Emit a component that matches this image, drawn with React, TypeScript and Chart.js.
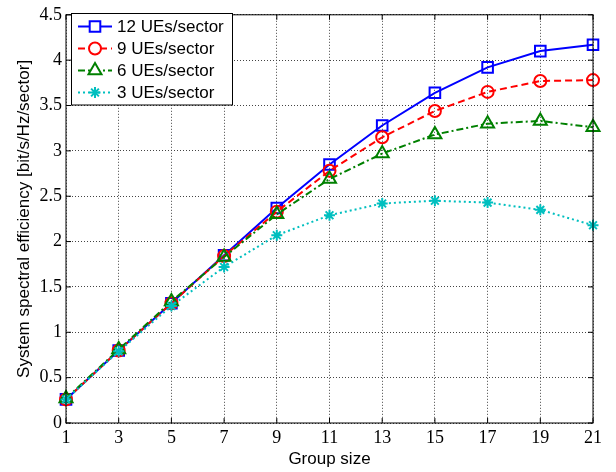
import React, { useEffect, useRef } from "react";
import { Chart, registerables } from "chart.js";

Chart.register(...registerables);

const groupSizes = [1, 3, 5, 7, 9, 11, 13, 15, 17, 19, 21];
const xTicks = [1, 3, 5, 7, 9, 11, 13, 15, 17, 19, 21];
const ues12 = [0.26, 0.8, 1.32, 1.85, 2.37, 2.85, 3.28, 3.64, 3.92, 4.1, 4.17];
const ues9 = [0.26, 0.8, 1.32, 1.84, 2.33, 2.78, 3.15, 3.44, 3.65, 3.77, 3.78];
const ues6 = [0.27, 0.81, 1.34, 1.83, 2.3, 2.69, 2.97, 3.18, 3.3, 3.33, 3.26];
const ues3 = [0.26, 0.79, 1.29, 1.72, 2.07, 2.29, 2.42, 2.45, 2.43, 2.35, 2.18];
const seriesLabels = ["12 UEs/sector", "9 UEs/sector", "6 UEs/sector", "3 UEs/sector"];
const xTitle = "Group size";
const yTitle = "System spectral efficiency [bit/s/Hz/sector]";

const SANS = "'Liberation Sans', Arial, Helvetica, sans-serif";
const SERIF = "'Liberation Serif', 'Times New Roman', serif";

const styles = [
  { color: "#0000ff", dash: [] as number[], point: "rect", radius: 7.5, pw: 2 },
  { color: "#ff0000", dash: [7, 4], point: "circle", radius: 6, pw: 2 },
  { color: "#008000", dash: [7, 3, 2, 3], point: "triangle", radius: 7.5, pw: 2 },
  { color: "#00bfbf", dash: [2, 3], point: "star", radius: 5.5, pw: 2 },
];

function drawPoint(ctx: CanvasRenderingContext2D, style: string, r: number, x: number, y: number, color: string, w: number) {
  ctx.save();
  ctx.strokeStyle = color;
  ctx.fillStyle = "#fff";
  ctx.lineWidth = w;
  ctx.setLineDash([]);
  ctx.beginPath();
  if (style === "rect") {
    const s = Math.SQRT1_2 * r;
    ctx.rect(x - s, y - s, 2 * s, 2 * s);
    ctx.fill();
  } else if (style === "circle") {
    ctx.arc(x, y, r, 0, Math.PI * 2);
    ctx.fill();
  } else if (style === "triangle") {
    const a = -Math.PI / 2;
    ctx.moveTo(x + Math.cos(a) * r, y + Math.sin(a) * r);
    ctx.lineTo(x + Math.cos(a + (2 * Math.PI) / 3) * r, y + Math.sin(a + (2 * Math.PI) / 3) * r);
    ctx.lineTo(x + Math.cos(a + (4 * Math.PI) / 3) * r, y + Math.sin(a + (4 * Math.PI) / 3) * r);
    ctx.closePath();
    ctx.fill();
  } else if (style === "star") {
    for (let k = 0; k < 4; k++) {
      const a = (k * Math.PI) / 4;
      ctx.moveTo(x - Math.cos(a) * r, y - Math.sin(a) * r);
      ctx.lineTo(x + Math.cos(a) * r, y + Math.sin(a) * r);
    }
  }
  ctx.stroke();
  ctx.restore();
}

const frameLegendPlugin = {
  id: "frameLegend",
  afterDraw(chart: any) {
    const { ctx, chartArea } = chart;
    const { left, right, top, bottom } = chartArea;
    const xs = chart.scales.x;
    const ys = chart.scales.y;
    ctx.save();
    ctx.strokeStyle = "#000";
    ctx.lineWidth = 1;
    ctx.setLineDash([]);
    ctx.strokeRect(left, top, right - left, bottom - top);
    const tl = 5;
    ctx.beginPath();
    xTicks.forEach((v) => {
      const px = xs.getPixelForValue(v);
      ctx.moveTo(px, bottom);
      ctx.lineTo(px, bottom - tl);
      ctx.moveTo(px, top);
      ctx.lineTo(px, top + tl);
    });
    ys.ticks.forEach((t: any) => {
      const py = ys.getPixelForValue(t.value);
      ctx.moveTo(left, py);
      ctx.lineTo(left + tl, py);
      ctx.moveTo(right, py);
      ctx.lineTo(right - tl, py);
    });
    ctx.stroke();

    // legend
    const bx = 71.5, by = 13.5, bw = 161, bh = 91.5;
    ctx.fillStyle = "#fff";
    ctx.fillRect(bx, by, bw, bh);
    ctx.strokeStyle = "#000";
    ctx.lineWidth = 1;
    ctx.strokeRect(bx, by, bw, bh);
    ctx.font = `17px ${SANS}`;
    ctx.textBaseline = "middle";
    ctx.textAlign = "left";
    seriesLabels.forEach((lab, i) => {
      const s = styles[i];
      const y = 26.5 + i * 22;
      ctx.strokeStyle = s.color;
      ctx.lineWidth = 2;
      ctx.setLineDash(s.dash);
      ctx.beginPath();
      ctx.moveTo(78, y);
      ctx.lineTo(112, y);
      ctx.stroke();
      ctx.setLineDash([]);
      drawPoint(ctx, s.point, s.radius, 95, y, s.color, s.pw);
      ctx.fillStyle = "#000";
      ctx.fillText(lab, 117, y + 1);
    });
    ctx.restore();
  },
};

export default function App() {
  const ref = useRef<HTMLCanvasElement | null>(null);
  useEffect(() => {
    if (!ref.current) return;
    const all = [ues12, ues9, ues6, ues3];
    const chart = new Chart(ref.current, {
      type: "line",
      data: {
        datasets: all.map((vals, i) => ({
          label: seriesLabels[i],
          data: groupSizes.map((g, j) => ({ x: g, y: vals[j] })),
          borderColor: styles[i].color,
          borderWidth: 2,
          borderDash: styles[i].dash,
          pointStyle: styles[i].point as any,
          pointRadius: styles[i].radius,
          pointBorderWidth: styles[i].pw,
          pointBorderColor: styles[i].color,
          pointBackgroundColor: "rgba(0,0,0,0)",
          backgroundColor: "rgba(0,0,0,0)",
          fill: false,
          tension: 0,
          order: 3 - i,
          clip: false as any,
        })),
      },
      options: {
        animation: false,
        responsive: false,
        maintainAspectRatio: false,
        layout: { padding: { top: 7.5, right: 23, left: 0, bottom: 0 } },
        plugins: { legend: { display: false }, tooltip: { enabled: false } },
        scales: {
          x: {
            type: "linear",
            min: 1,
            max: 21,
            afterBuildTicks: (s: any) => {
              s.ticks = xTicks.map((v) => ({ value: v }));
            },
            afterFit: (s: any) => {
              s.height = 49;
            },
            grid: { color: "#444", lineWidth: 1, drawTicks: false },
            border: { display: false, dash: [1, 2] },
            ticks: {
              padding: 4,
              color: "#000",
              font: { family: SERIF, size: 18 },
              maxRotation: 0,
              autoSkip: false,
            },
            title: {
              display: true,
              text: xTitle,
              color: "#000",
              font: { family: SANS, size: 17 },
              padding: { top: 0, bottom: 2 },
            },
          },
          y: {
            type: "linear",
            min: 0,
            max: 4.5,
            ticks: {
              stepSize: 0.5,
              padding: 4,
              color: "#000",
              font: { family: SERIF, size: 18 },
              callback: (v: any) => String(Math.round(Number(v) * 10) / 10),
            },
            afterFit: (s: any) => {
              s.width = 66;
            },
            grid: { color: "#444", lineWidth: 1, drawTicks: false },
            border: { display: false, dash: [1, 2] },
            title: {
              display: true,
              text: yTitle,
              color: "#000",
              font: { family: SANS, size: 17 },
              padding: { top: 14, bottom: 0 },
            },
          },
        },
      },
      plugins: [frameLegendPlugin],
    });
    return () => chart.destroy();
  }, []);
  return (
    <div style={{ position: "absolute", left: 0, top: 0, width: 616, height: 472, background: "#fff" }}>
      <canvas ref={ref} width={616} height={472} style={{ width: 616, height: 472, display: "block" }} />
    </div>
  );
}
